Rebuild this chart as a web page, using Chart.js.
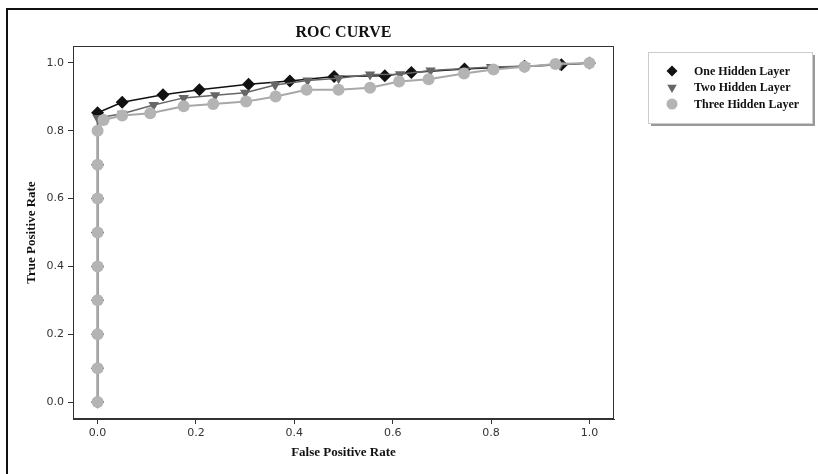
<!DOCTYPE html>
<html>
<head>
<meta charset="utf-8">
<script src="https://cdn.jsdelivr.net/npm/chart.js@4/dist/chart.umd.min.js"></script>
<style>
  html, body { margin: 0; padding: 0; background: #fff; }
  #wrap { width: 818px; height: 474px; position: relative; }
</style>
</head>
<body>
<div id="wrap"><canvas id="roc"></canvas></div>
<script>
// values
const chartTitle = "ROC CURVE";
const seriesNames = ["One Hidden Layer", "Two Hidden Layer", "Three Hidden Layer"];

const fprOne = [0, 0, 0, 0, 0, 0, 0, 0, 0, 0.05, 0.133, 0.207, 0.307, 0.391, 0.481, 0.584, 0.638, 0.746, 0.868, 0.943, 1.0];
const tprOne = [0, 0.1, 0.2, 0.3, 0.4, 0.5, 0.6, 0.7, 0.853, 0.884, 0.906, 0.921, 0.937, 0.947, 0.96, 0.962, 0.972, 0.982, 0.99, 0.995, 1.0];

const fprTwo = [0, 0, 0, 0, 0, 0, 0, 0, 0, 0.05, 0.114, 0.175, 0.239, 0.30, 0.361, 0.427, 0.49, 0.554, 0.615, 0.677, 0.80, 0.87, 0.94, 1.0];
const tprTwo = [0, 0.1, 0.2, 0.3, 0.4, 0.5, 0.6, 0.7, 0.838, 0.85, 0.876, 0.897, 0.905, 0.912, 0.935, 0.948, 0.955, 0.966, 0.967, 0.978, 0.988, 0.99, 0.995, 1.0];

const fprThree = [0, 0, 0, 0, 0, 0, 0, 0, 0, 0.012, 0.05, 0.107, 0.175, 0.235, 0.302, 0.362, 0.425, 0.49, 0.554, 0.613, 0.673, 0.745, 0.805, 0.868, 0.931, 1.0];
const tprThree = [0, 0.1, 0.2, 0.3, 0.4, 0.5, 0.6, 0.7, 0.8, 0.832, 0.845, 0.852, 0.872, 0.879, 0.886, 0.901, 0.921, 0.921, 0.927, 0.945, 0.952, 0.969, 0.981, 0.989, 0.997, 1.0];

const xTicks = [0, 0.2, 0.4, 0.6, 0.8, 1.0];
const yTicks = [0, 0.2, 0.4, 0.6, 0.8, 1.0];

function toPoints(xs, ys) {
  return xs.map((x, i) => ({ x: x, y: ys[i] }));
}

const serif = "'Liberation Serif', 'DejaVu Serif', serif";
const sans = "'DejaVu Sans', sans-serif";

// title over the plot, box round the plot, outer frame and the legend
const extras = {
  id: "extras",
  afterDraw(chart) {
    const ctx = chart.ctx;
    const a = chart.chartArea;
    ctx.save();
    // title
    ctx.fillStyle = "#111";
    ctx.font = "bold 16px " + serif;
    ctx.textAlign = "center";
    ctx.textBaseline = "middle";
    ctx.fillText(chartTitle, (a.left + a.right) / 2, 33);

    // plot frame
    ctx.strokeStyle = "#333";
    ctx.lineWidth = 1;
    ctx.strokeRect(a.left + 0.5, a.top + 0.5, a.right - a.left - 1, a.bottom - a.top - 1);
    // outer frame (top and left)
    ctx.strokeStyle = "#111";
    ctx.lineWidth = 2;
    ctx.beginPath();
    ctx.moveTo(7, 474);
    ctx.lineTo(7, 9);
    ctx.lineTo(818, 9);
    ctx.stroke();

    // legend
    const bx = 648, by = 52, bw = 164, bh = 71;
    ctx.fillStyle = "#999";
    ctx.fillRect(bx + 3, by + 3, bw, bh);
    ctx.fillStyle = "#fff";
    ctx.fillRect(bx, by, bw, bh);
    ctx.strokeStyle = "#ccc";
    ctx.lineWidth = 1;
    ctx.strokeRect(bx + 0.5, by + 0.5, bw, bh);

    ctx.font = "bold 12px " + serif;
    ctx.textBaseline = "middle";
    ctx.textAlign = "left";
    chart.data.datasets.forEach((ds, i) => {
      const y = 71 + i * 16.5;
      ctx.fillStyle = ds.pointBackgroundColor;
      ctx.strokeStyle = ds.pointBackgroundColor;
      Chart.helpers.drawPoint(ctx, {
        pointStyle: ds.pointStyle,
        rotation: ds.pointRotation || 0,
        radius: 5.5,
        borderWidth: 0
      }, 672, y);
      ctx.fillStyle = "#111";
      ctx.fillText(ds.label, 694, y + 0.5);
    });
    ctx.restore();
  }
};

const ctx = document.getElementById("roc").getContext("2d");
new Chart(ctx, {
  type: "scatter",
  data: {
    datasets: [
      {
        label: seriesNames[0],
        data: toPoints(fprOne, tprOne),
        showLine: true,
        borderColor: "#111",
        borderWidth: 1.5,
        backgroundColor: "#111",
        pointBackgroundColor: "#111",
        pointBorderWidth: 0,
        pointStyle: "rectRot",
        pointRadius: 6.5,
        order: 3
      },
      {
        label: seriesNames[1],
        data: toPoints(fprTwo, tprTwo),
        showLine: true,
        borderColor: "#666",
        borderWidth: 1.5,
        backgroundColor: "#666",
        pointBackgroundColor: "#666",
        pointBorderWidth: 0,
        pointStyle: "triangle",
        pointRotation: 180,
        pointRadius: 6,
        order: 2
      },
      {
        label: seriesNames[2],
        data: toPoints(fprThree, tprThree),
        showLine: true,
        borderColor: "#a8a8a8",
        borderWidth: 2,
        backgroundColor: "#b4b4b4",
        pointBackgroundColor: "#b4b4b4",
        pointBorderWidth: 0,
        pointStyle: "circle",
        pointRadius: 6,
        order: 1
      }
    ]
  },
  options: {
    responsive: true,
    maintainAspectRatio: false,
    animation: false,
    layout: { padding: { left: 8, right: 204, top: 46, bottom: 10 } },
    plugins: {
      legend: { display: false },
      tooltip: { enabled: false },
      title: { display: false }
    },
    scales: {
      x: {
        type: "linear",
        min: -0.05,
        max: 1.05,
        afterBuildTicks: (s) => { s.ticks = xTicks.map(v => ({ value: v })); },
        afterFit: (s) => { s.height = 45; },
        grid: { drawOnChartArea: false, drawTicks: true, tickLength: 5, color: "#333" },
        border: { display: true, color: "#333" },
        ticks: {
          color: "#333",
          padding: 3,
          font: { family: sans, size: 11 },
          callback: (v) => Number(v).toFixed(1)
        },
        title: {
          display: true,
          text: "False Positive Rate",
          color: "#111",
          font: { family: serif, size: 13, weight: "bold" },
          padding: { top: 0, bottom: 4 }
        }
      },
      y: {
        type: "linear",
        min: -0.05,
        max: 1.05,
        afterBuildTicks: (s) => { s.ticks = yTicks.map(v => ({ value: v })); },
        afterFit: (s) => { s.width = 65; },
        grid: { drawOnChartArea: false, drawTicks: true, tickLength: 5, color: "#333" },
        border: { display: true, color: "#333" },
        ticks: {
          color: "#333",
          padding: 4,
          font: { family: sans, size: 11 },
          callback: (v) => Number(v).toFixed(1)
        },
        title: {
          display: true,
          text: "True Positive Rate",
          color: "#111",
          font: { family: serif, size: 13, weight: "bold" },
          padding: { top: 16, bottom: 0 }
        }
      }
    }
  },
  plugins: [extras]
});
</script>
</body>
</html>
